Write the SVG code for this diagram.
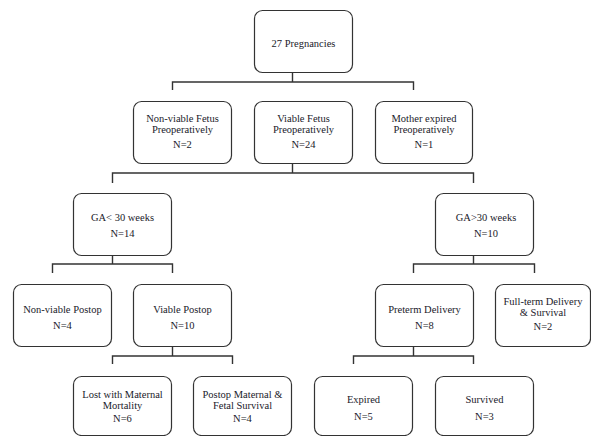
<svg xmlns="http://www.w3.org/2000/svg" width="591" height="436" viewBox="0 0 591 436">
<style>
.box{fill:#fff;stroke:#333;stroke-width:1.2}
.t{font-family:"Liberation Serif","DejaVu Serif",serif;font-size:10.5px;fill:#1a1a2a;text-anchor:middle}
.c{stroke:#333;stroke-width:1.4;fill:none}
.g{stroke:#d8d8d8;stroke-width:1;fill:none}
</style>
<rect width="591" height="436" fill="#fff"/>
<g id="connectors">
<path class="g" d="M292.5 62V72M292.5 153V163M112.5 245V255M473.5 245V255M172.5 336V346M413.5 336V346"/>
<path class="c" d="M292.5 72V82M172.5 90V82H413.5V90"/>
<path class="c" d="M292.5 163V173M112.5 183V173H473.5V183"/>
<path class="c" d="M112.5 255V264M52.5 273V264H172.5V273"/>
<path class="c" d="M473.5 255V264M413.5 273V264H534.5V273"/>
<path class="c" d="M172.5 346V356M112.5 364V356H232.5V364"/>
<path class="c" d="M413.5 346V356M353.5 364V356H473.5V364"/>
</g>
<g id="n-pregnancies"><rect class="box" x="254.5" y="10.5" width="98" height="62" rx="8"/><text class="t" x="303.5" y="46.5">27 Pregnancies</text></g>
<g id="n-nonviable-fetus"><rect class="box" x="133.5" y="101.5" width="98" height="62" rx="8"/><text class="t" x="182.5" y="122">Non-viable Fetus</text><text class="t" x="182.5" y="133">Preoperatively</text><text class="t" x="182.5" y="147.5">N=2</text></g>
<g id="n-viable-fetus"><rect class="box" x="254.5" y="101.5" width="98" height="62" rx="8"/><text class="t" x="303.5" y="122">Viable Fetus</text><text class="t" x="303.5" y="133">Preoperatively</text><text class="t" x="303.5" y="147.5">N=24</text></g>
<g id="n-mother-expired"><rect class="box" x="375.5" y="101.5" width="97" height="62" rx="8"/><text class="t" x="424" y="122">Mother expired</text><text class="t" x="424" y="133">Preoperatively</text><text class="t" x="424" y="147.5">N=1</text></g>
<g id="n-ga-lt30"><rect class="box" x="73.5" y="193.5" width="98" height="62" rx="8"/><text class="t" x="122.5" y="220.5">GA&lt; 30 weeks</text><text class="t" x="122.5" y="236.5">N=14</text></g>
<g id="n-ga-gt30"><rect class="box" x="435.5" y="193.5" width="98" height="62" rx="8"/><text class="t" x="486" y="220.5">GA&gt;30 weeks</text><text class="t" x="486" y="236.5">N=10</text></g>
<g id="n-nonviable-postop"><rect class="box" x="13.5" y="284.5" width="98" height="62" rx="8"/><text class="t" x="62.5" y="312.5">Non-viable Postop</text><text class="t" x="62.5" y="328.5">N=4</text></g>
<g id="n-viable-postop"><rect class="box" x="133.5" y="284.5" width="98" height="62" rx="8"/><text class="t" x="182.5" y="312.5">Viable Postop</text><text class="t" x="182.5" y="328.5">N=10</text></g>
<g id="n-preterm"><rect class="box" x="375.5" y="284.5" width="98" height="62" rx="8"/><text class="t" x="424.5" y="312.5">Preterm Delivery</text><text class="t" x="424.5" y="328.5">N=8</text></g>
<g id="n-fullterm"><rect class="box" x="495.5" y="284.5" width="95" height="62" rx="8"/><text class="t" x="543" y="305">Full-term Delivery</text><text class="t" x="543" y="315.5">&amp; Survival</text><text class="t" x="543" y="330">N=2</text></g>
<g id="n-lost"><rect class="box" x="73.5" y="376.5" width="98" height="59" rx="8"/><text class="t" x="122.5" y="397.5">Lost with Maternal</text><text class="t" x="122.5" y="408.5">Mortality</text><text class="t" x="122.5" y="422">N=6</text></g>
<g id="n-postop-survival"><rect class="box" x="193.5" y="376.5" width="98" height="59" rx="8"/><text class="t" x="242.5" y="397.5">Postop Maternal &amp;</text><text class="t" x="242.5" y="408.5">Fetal Survival</text><text class="t" x="242.5" y="422">N=4</text></g>
<g id="n-expired"><rect class="box" x="314.5" y="376.5" width="98" height="59" rx="8"/><text class="t" x="363.5" y="402.5">Expired</text><text class="t" x="363.5" y="419.5">N=5</text></g>
<g id="n-survived"><rect class="box" x="435.5" y="376.5" width="98" height="59" rx="8"/><text class="t" x="484.5" y="402.5">Survived</text><text class="t" x="484.5" y="419.5">N=3</text></g>
</svg>
